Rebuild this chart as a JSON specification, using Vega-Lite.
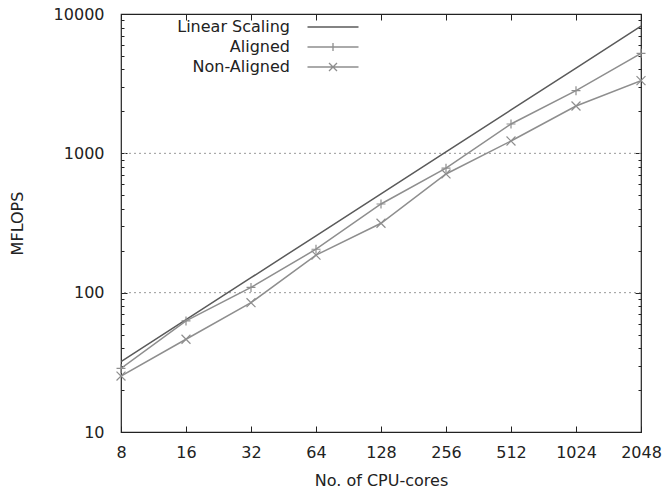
{
  "$schema": "https://vega.github.io/schema/vega-lite/v6.json",
  "width": 520,
  "height": 418,
  "autosize": {"type": "none"},
  "padding": {"left": 121, "top": 14, "right": 21, "bottom": 59},
  "background": "white",
  "config": {
    "view": {"stroke": "#222", "strokeWidth": 1.2},
    "font": "DejaVu Sans",
    "axis": {"labelFont": "DejaVu Sans", "titleFont": "DejaVu Sans", "labelFontSize": 16, "titleFontSize": 16, "labelColor": "#222", "titleColor": "#222", "titleFontWeight": "normal", "domain": false, "tickColor": "#222", "tickWidth": 1}
  },
  "datasets": {
    "perf": [
      {"series": "Linear Scaling", "cores": 8, "mflops": 32},
      {"series": "Linear Scaling", "cores": 16, "mflops": 64},
      {"series": "Linear Scaling", "cores": 32, "mflops": 128},
      {"series": "Linear Scaling", "cores": 64, "mflops": 256},
      {"series": "Linear Scaling", "cores": 128, "mflops": 512},
      {"series": "Linear Scaling", "cores": 256, "mflops": 1024},
      {"series": "Linear Scaling", "cores": 512, "mflops": 2048},
      {"series": "Linear Scaling", "cores": 1024, "mflops": 4096},
      {"series": "Linear Scaling", "cores": 2048, "mflops": 8192},
      {"series": "Aligned", "cores": 8, "mflops": 28.6},
      {"series": "Aligned", "cores": 16, "mflops": 62.7},
      {"series": "Aligned", "cores": 32, "mflops": 109},
      {"series": "Aligned", "cores": 64, "mflops": 205},
      {"series": "Aligned", "cores": 128, "mflops": 433},
      {"series": "Aligned", "cores": 256, "mflops": 782},
      {"series": "Aligned", "cores": 512, "mflops": 1624},
      {"series": "Aligned", "cores": 1024, "mflops": 2817},
      {"series": "Aligned", "cores": 2048, "mflops": 5224},
      {"series": "Non-Aligned", "cores": 8, "mflops": 25.2},
      {"series": "Non-Aligned", "cores": 16, "mflops": 46.3},
      {"series": "Non-Aligned", "cores": 32, "mflops": 84.7},
      {"series": "Non-Aligned", "cores": 64, "mflops": 186},
      {"series": "Non-Aligned", "cores": 128, "mflops": 315},
      {"series": "Non-Aligned", "cores": 256, "mflops": 711},
      {"series": "Non-Aligned", "cores": 512, "mflops": 1226},
      {"series": "Non-Aligned", "cores": 1024, "mflops": 2187},
      {"series": "Non-Aligned", "cores": 2048, "mflops": 3323}
    ],
    "gridlines": [{"level": 100}, {"level": 1000}]
  },
  "layer": [
    {
      "data": {"name": "gridlines"},
      "mark": {"type": "rule", "color": "#999", "strokeDash": [2, 3], "strokeWidth": 1},
      "encoding": {
        "y": {"field": "level", "type": "quantitative", "axis": null}
      }
    },
    {
      "data": {"name": "perf"},
      "mark": {"type": "line", "strokeWidth": 1.5, "clip": true},
      "encoding": {
        "x": {
          "field": "cores", "type": "quantitative",
          "scale": {"type": "log", "base": 2, "domain": [8, 2048], "nice": false},
          "axis": {
            "orient": "bottom", "title": "No. of CPU-cores", "format": "d",
            "values": [8, 16, 32, 64, 128, 256, 512, 1024, 2048],
            "tickSize": -6, "labelPadding": 18, "titlePadding": 12,
            "grid": false, "labelFlush": false, "labelOverlap": false
          }
        },
        "y": {
          "field": "mflops", "type": "quantitative",
          "scale": {"type": "log", "domain": [10, 10000], "nice": false},
          "axis": {
            "orient": "left", "title": "MFLOPS",
            "values": [10, 20, 30, 40, 50, 60, 70, 80, 90, 100, 200, 300, 400, 500, 600, 700, 800, 900, 1000, 2000, 3000, 4000, 5000, 6000, 7000, 8000, 9000, 10000],
            "labelExpr": "indexof([10,100,1000,10000], datum.value) >= 0 ? format(datum.value, 'd') : ''",
            "tickSize": {"condition": {"test": "indexof([10,100,1000,10000], datum.value) >= 0", "value": -6}, "value": -3},
            "labelPadding": 23, "titlePadding": 28,
            "labelFlush": false, "labelOverlap": false, "grid": false
          }
        },
        "color": {
          "field": "series", "type": "nominal",
          "scale": {"domain": ["Linear Scaling", "Aligned", "Non-Aligned"], "range": ["#5a5a5a", "#8e8e8e", "#8e8e8e"]},
          "legend": {
            "orient": "none", "legendX": 184, "legendY": 5, "title": null,
            "padding": 0, "rowPadding": 4,
            "symbolSize": 100, "symbolStrokeWidth": 1.3, "symbolStrokeColor": "#7a7a7a", "symbolFillColor": "transparent",
            "symbolOffset": 20, "symbolType": "stroke",
            "labelFont": "DejaVu Sans", "labelFontSize": 16, "labelColor": "#222",
            "labelAlign": "right", "labelOffset": -51, "labelLimit": 300,
            "encode": {
              "symbols": {"update": {
                "shape": {"signal": "datum.value == 'Aligned' ? 'M-5.1,0H5.1M0,-0.8V0.8' : datum.value == 'Non-Aligned' ? 'M-5.1,0H5.1M-0.8,-0.8L0.8,0.8M-0.8,0.8L0.8,-0.8' : 'M-5.1,0H5.1'"}
              }}
            }
          }
        }
      }
    },
    {
      "data": {"name": "perf"},
      "transform": [{"filter": "datum.series != 'Linear Scaling'"}],
      "mark": {"type": "point", "filled": false, "size": 80, "strokeWidth": 1.2, "opacity": 1, "clip": false},
      "encoding": {
        "x": {
          "field": "cores", "type": "quantitative",
          "axis": {
            "orient": "top", "title": null, "labels": false,
            "values": [8, 16, 32, 64, 128, 256, 512, 1024, 2048],
            "tickSize": -6, "grid": false
          }
        },
        "y": {
          "field": "mflops", "type": "quantitative",
          "axis": {
            "orient": "right", "title": null, "labels": false,
            "values": [10, 20, 30, 40, 50, 60, 70, 80, 90, 100, 200, 300, 400, 500, 600, 700, 800, 900, 1000, 2000, 3000, 4000, 5000, 6000, 7000, 8000, 9000, 10000],
            "tickSize": {"condition": {"test": "indexof([10,100,1000,10000], datum.value) >= 0", "value": -6}, "value": -3},
            "grid": false
          }
        },
        "shape": {
          "field": "series", "type": "nominal",
          "scale": {"domain": ["Aligned", "Non-Aligned"], "range": ["M-1,0H1M0,-1V1", "M-1,-1L1,1M-1,1L1,-1"]},
          "legend": null
        },
        "color": {"field": "series", "type": "nominal"}
      }
    }
  ],
  "resolve": {"axis": {"x": "independent", "y": "independent"}}
}
